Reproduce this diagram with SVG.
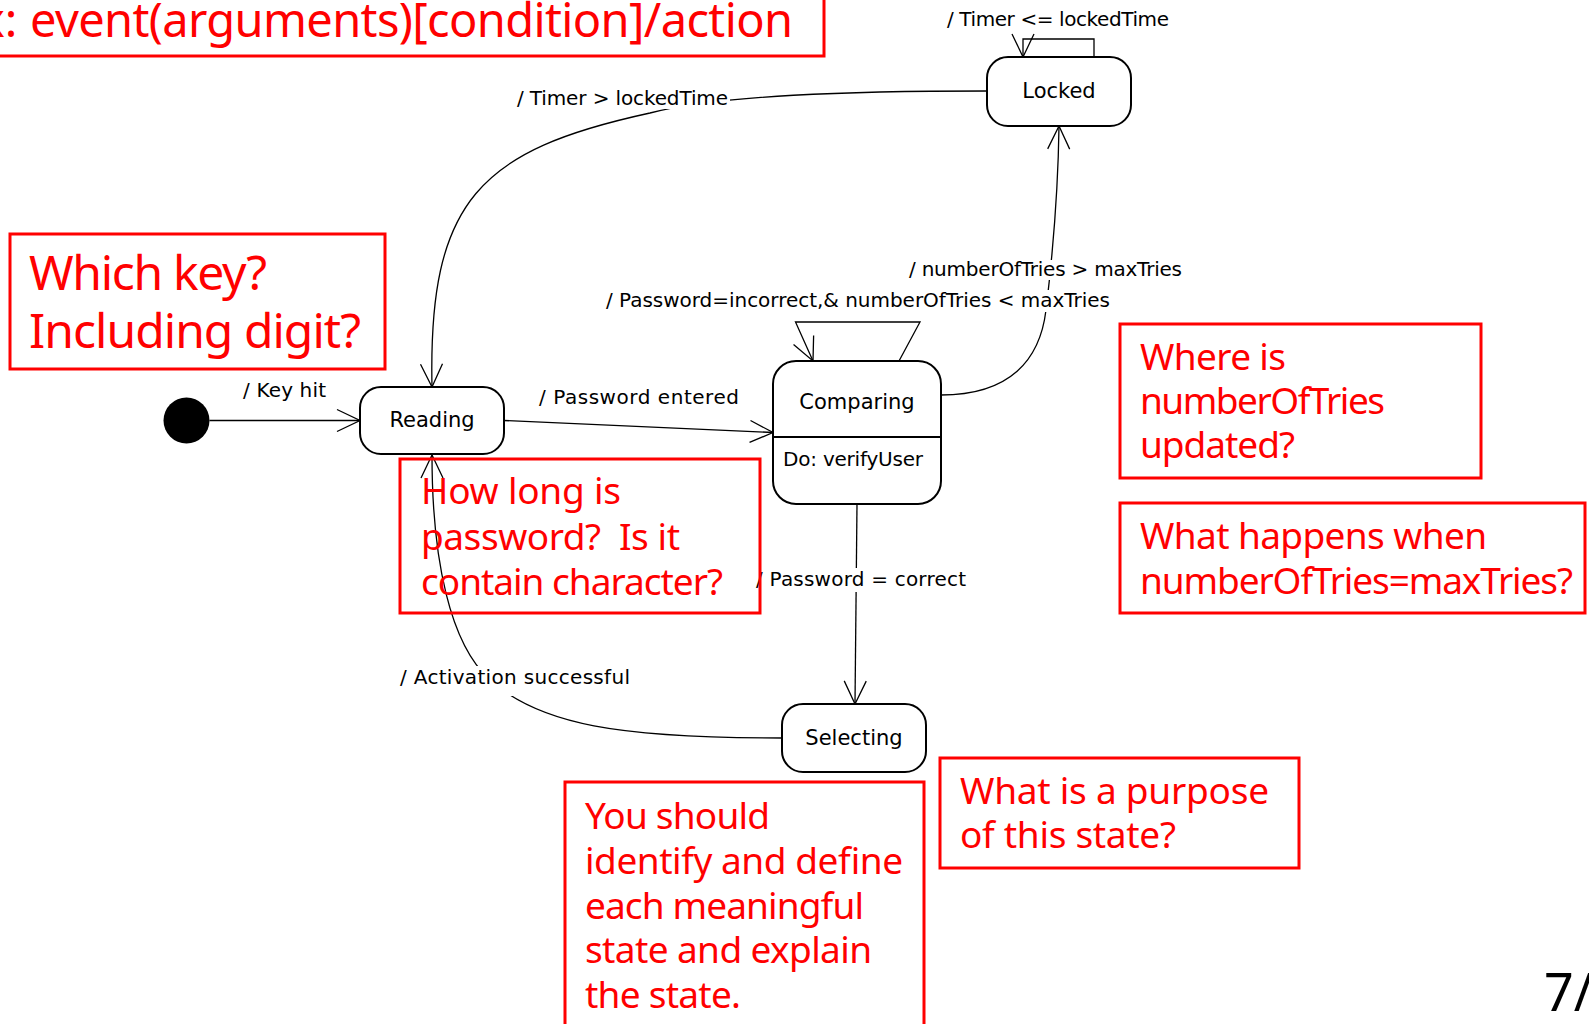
<svg xmlns="http://www.w3.org/2000/svg" width="1589" height="1024" viewBox="0 0 1589 1024">
<style>
.state{fill:#fff;stroke:#000;stroke-width:2}
.conn{fill:none;stroke:#000;stroke-width:1.3;marker-end:url(#arr)}
.lbl{font-family:"DejaVu Sans",sans-serif;font-size:20px;fill:#000}
.sname{font-family:"DejaVu Sans",sans-serif;font-size:21px;fill:#000;text-anchor:middle}
.bg{fill:#fff}
.note{fill:none;stroke:#f00;stroke-width:3}
.nt{font-family:"Noto Sans",sans-serif;font-size:37px;fill:#f00}
.big{font-size:48px}
.ban{font-size:47px}
</style>
<defs>
<marker id="arr" viewBox="-26 -13 28 26" refX="0" refY="0" markerWidth="28" markerHeight="26" markerUnits="userSpaceOnUse" orient="auto">
<path d="M-23,-11 L0,0 L-23,11" fill="none" stroke="#000" stroke-width="1.3"/>
</marker>
</defs>
<rect width="1589" height="1024" fill="#fff"/>

<g id="connectors">
<path class="conn" d="M209.5,420.5 L360,420.5"/>
<path class="conn" d="M504,420.5 L773,432.5"/>
<path class="conn" d="M941,395 C1010,395 1040,360 1046,310 C1052,260 1058,200 1059,126"/>
<path class="conn" d="M899,361 L920,322 L795.5,322 L813,361"/>
<path class="conn" d="M1094,57 L1094,39 L1023,39 L1023,57"/>
<path class="conn" d="M987,91 C850,91 720,95 650,113 C480,150 428,200 432,387"/>
<path class="conn" d="M857,504 L855,704"/>
<path class="conn" d="M782,738 C620,738 540,725 490,680 C450,644 432,560 432,455"/>
</g>

<g id="labels">
<text class="lbl" x="947" y="26" textLength="222">/ Timer &lt;= lockedTime</text>
<rect class="bg" x="515" y="88" width="215" height="21"/>
<text class="lbl" x="517" y="105" textLength="211">/ Timer &gt; lockedTime</text>
<text class="lbl" x="243" y="397" textLength="83">/ Key hit</text>
<text class="lbl" x="539" y="404" textLength="200">/ Password entered</text>
<rect class="bg" x="907" y="260" width="277" height="20"/>
<text class="lbl" x="909" y="276" textLength="273">/ numberOfTries &gt; maxTries</text>
<rect class="bg" x="604" y="290" width="508" height="22"/>
<text class="lbl" x="606" y="307" textLength="504">/ Password=incorrect,&amp; numberOfTries &lt; maxTries</text>
<rect class="bg" x="754" y="568" width="214" height="24"/>
<text class="lbl" x="756" y="586" textLength="210">/ Password = correct</text>
<rect class="bg" x="398" y="666" width="234" height="30"/>
<text class="lbl" x="400" y="684" textLength="230">/ Activation successful</text>
</g>

<g id="initial"><circle cx="186.5" cy="420.5" r="23" fill="#000"/></g>
<g id="locked"><rect class="state" x="987" y="57" width="144" height="69" rx="21"/><text class="sname" x="1059" y="98">Locked</text></g>
<g id="reading"><rect class="state" x="360" y="387" width="144" height="67" rx="21"/><text class="sname" x="432" y="427">Reading</text></g>
<g id="comparing"><rect class="state" x="773" y="361" width="168" height="143" rx="23"/><line x1="773" y1="437" x2="941" y2="437" stroke="#000" stroke-width="2"/><text class="sname" x="857" y="409">Comparing</text><text class="lbl" x="783" y="466" textLength="140">Do: verifyUser</text></g>
<g id="selecting"><rect class="state" x="782" y="704" width="144" height="68" rx="21"/><text class="sname" x="854" y="745">Selecting</text></g>

<g id="note-banner"><rect class="note" x="-10" y="-10" width="834" height="66"/><text class="nt ban" y="37"><tspan x="-20">x:</tspan><tspan x="30" textLength="763">event(arguments)[condition]/action</tspan></text></g>
<g id="note-key"><rect class="note" x="10" y="234" width="375" height="135"/><text class="nt big"><tspan x="29" y="290" textLength="238">Which key?</tspan><tspan x="29" y="348" textLength="332">Including digit?</tspan></text></g>
<g id="note-where"><rect class="note" x="1120" y="324" width="361" height="154"/><text class="nt"><tspan x="1140" y="370" textLength="146">Where is</tspan><tspan x="1140" y="414" textLength="245">numberOfTries</tspan><tspan x="1140" y="458" textLength="155">updated?</tspan></text></g>
<g id="note-happens"><rect class="note" x="1120" y="503" width="465" height="110"/><text class="nt"><tspan x="1140" y="549" textLength="347">What happens when</tspan><tspan x="1140" y="594" textLength="433">numberOfTries=maxTries?</tspan></text></g>
<g id="note-long"><rect class="note" x="400" y="459" width="360" height="154"/><text class="nt"><tspan x="421" y="504" textLength="200">How long is</tspan><tspan x="421" y="550" textLength="259" xml:space="preserve">password?  Is it</tspan><tspan x="421" y="595" textLength="302">contain character?</tspan></text></g>
<g id="note-should"><rect class="note" x="565" y="782" width="359" height="260"/><text class="nt"><tspan x="585" y="829" textLength="185">You should</tspan><tspan x="585" y="874" textLength="318">identify and define</tspan><tspan x="585" y="919" textLength="279">each meaningful</tspan><tspan x="585" y="963" textLength="287">state and explain</tspan><tspan x="585" y="1008" textLength="156">the state.</tspan></text></g>
<g id="note-purpose"><rect class="note" x="940" y="758" width="359" height="110"/><text class="nt"><tspan x="960" y="804" textLength="309">What is a purpose</tspan><tspan x="960" y="848" textLength="216">of this state?</tspan></text></g>
<text x="1544" y="1011" font-family="Noto Sans, sans-serif" font-size="52" fill="#000">7/</text>
</svg>
